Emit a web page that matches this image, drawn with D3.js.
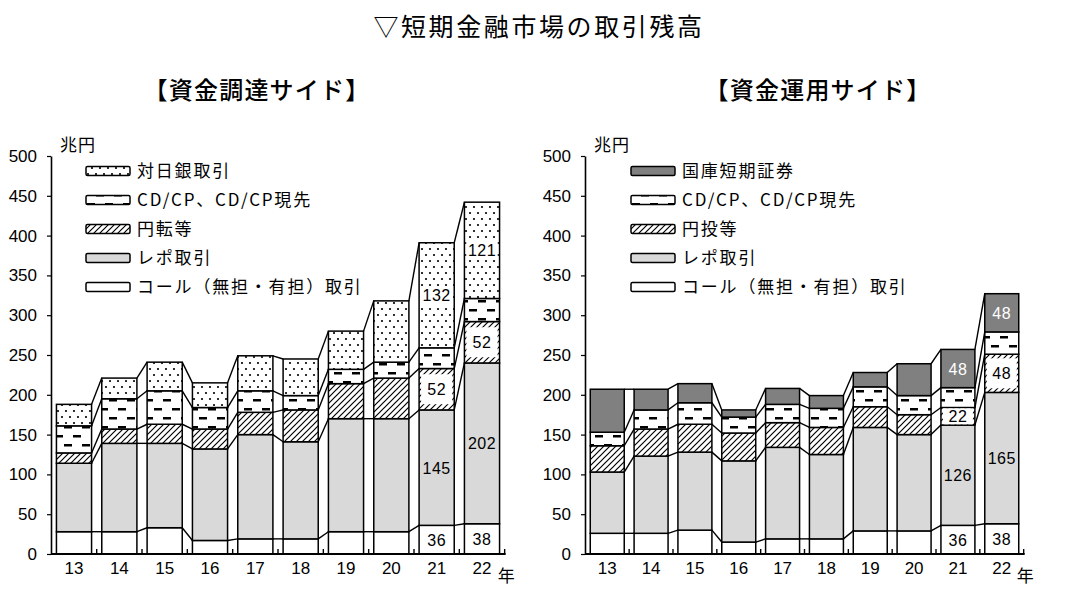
<!DOCTYPE html>
<html>
<head>
<meta charset="utf-8">
<script src="https://cdn.jsdelivr.net/npm/d3@7/dist/d3.min.js"></script>
<style>
  body { margin: 0; background: #fff; }
  svg text { font-family: "Liberation Sans", Arial, sans-serif; fill: #000; }
  svg text.jp { font-family: "Noto Sans CJK JP", sans-serif; }
</style>
</head>
<body>
<svg id="chart"></svg>
<script>
'use strict';

var years = ['13', '14', '15', '16', '17', '18', '19', '20', '21', '22'];
var yTicks = [0, 50, 100, 150, 200, 250, 300, 350, 400, 450, 500];
var labelYears = ['21', '22'];
var labelSeries = [0, 1, 2, 4];

// 資金調達サイド (bottom -> top)
var fundNames = ['コール（無担・有担）取引', 'レポ取引', '円転等', 'CD/CP、CD/CP現先', '対日銀取引'];
var fundCall = [28, 28, 33, 17, 19, 19, 28, 28, 36, 38];
var fundRepo = [86, 111, 106, 115, 131, 122, 142, 142, 145, 202];
var fundYen  = [13, 18, 24, 25, 28, 40, 44, 51, 52, 52];
var fundCdcp = [34, 38, 42, 27, 27, 18, 18, 20, 26, 29];
var fundBoj  = [27, 26, 36, 31, 44, 46, 48, 77, 132, 121];

// 資金運用サイド (bottom -> top)
var useNames = ['コール（無担・有担）取引', 'レポ取引', '円投等', 'CD/CP、CD/CP現先', '国庫短期証券'];
var useCall = [26, 26, 30, 15, 19, 19, 29, 29, 36, 38];
var useRepo = [77, 97, 98, 102, 115, 106, 130, 121, 126, 165];
var useYen  = [33, 34, 35, 35, 31, 34, 26, 25, 22, 48];
var useCdcp = [17, 24, 27, 20, 23, 24, 25, 24, 25, 28];
var useTb   = [54, 26, 24, 9, 20, 16, 18, 40, 48, 48];

var width = 1075;
var height = 607;

var svg = d3.select('#chart')
  .attr('width', width)
  .attr('height', height);

// patterns
var defs = svg.append('defs');

var dots = defs.append('pattern')
  .attr('id', 'dots')
  .attr('patternUnits', 'userSpaceOnUse')
  .attr('width', 8)
  .attr('height', 12);
dots.append('rect').attr('width', 8).attr('height', 12).attr('fill', '#fff');
dots.append('circle').attr('cx', 2).attr('cy', 3).attr('r', 1.1).attr('fill', '#000');
dots.append('circle').attr('cx', 6).attr('cy', 9).attr('r', 1.1).attr('fill', '#000');

var dash = defs.append('pattern')
  .attr('id', 'dash')
  .attr('patternUnits', 'userSpaceOnUse')
  .attr('width', 18)
  .attr('height', 18);
dash.append('rect').attr('width', 18).attr('height', 18).attr('fill', '#fff');
dash.append('rect').attr('x', 1).attr('y', 3).attr('width', 8).attr('height', 2.5).attr('fill', '#000');
dash.append('rect').attr('x', 10).attr('y', 12).attr('width', 8).attr('height', 2.5).attr('fill', '#000');

var hatch = defs.append('pattern')
  .attr('id', 'hatch')
  .attr('patternUnits', 'userSpaceOnUse')
  .attr('width', 6)
  .attr('height', 6);
hatch.append('rect').attr('width', 6).attr('height', 6).attr('fill', '#fff');
hatch.append('path')
  .attr('d', 'M0,6 L6,0 M-1.5,1.5 L1.5,-1.5 M4.5,7.5 L7.5,4.5')
  .attr('stroke', '#000')
  .attr('stroke-width', 1.2);

// title
svg.append('text')
  .attr('class', 'jp')
  .attr('x', 539)
  .attr('y', 36)
  .attr('text-anchor', 'middle')
  .style('font-size', '25px')
  .style('letter-spacing', '2.6px')
  .text('▽短期金融市場の取引残高');

var y = d3.scaleLinear().domain([0, 500]).range([554, 156]);

function drawPanel(opt) {
  var g = svg.append('g');

  var x = d3.scaleBand()
    .domain(years)
    .range(opt.xRange)
    .paddingInner(0.225)
    .paddingOuter(0.12);
  var bw = x.bandwidth();
  var step = x.step();

  var table = years.map(function (yr, i) {
    var row = { year: yr };
    opt.series.forEach(function (s, k) { row[k] = s[i]; });
    return row;
  });
  var layers = d3.stack().keys(d3.range(opt.series.length))(table);

  // subtitle
  g.append('text')
    .attr('class', 'jp')
    .attr('x', opt.subX)
    .attr('y', 99)
    .attr('text-anchor', 'middle')
    .style('font-size', '24px')
    .style('font-weight', 500)
    .style('letter-spacing', '1.2px')
    .text(opt.subtitle);

  // bars
  layers.forEach(function (layer, k) {
    g.append('g').selectAll('rect')
      .data(layer)
      .enter().append('rect')
      .attr('x', function (d) { return x(d.data.year); })
      .attr('y', function (d) { return y(d[1]); })
      .attr('width', bw)
      .attr('height', function (d) { return y(d[0]) - y(d[1]); })
      .attr('fill', opt.fills[k])
      .attr('stroke', '#000')
      .attr('stroke-width', 1.5);
  });

  // series lines between the bars
  layers.forEach(function (layer) {
    g.append('g').selectAll('line')
      .data(layer.slice(0, -1))
      .enter().append('line')
      .attr('x1', function (d) { return x(d.data.year) + bw; })
      .attr('y1', function (d) { return y(d[1]); })
      .attr('x2', function (d, i) { return x(layer[i + 1].data.year); })
      .attr('y2', function (d, i) { return y(layer[i + 1][1]); })
      .attr('stroke', '#000')
      .attr('stroke-width', 1.4);
  });

  // value labels
  labelSeries.forEach(function (k) {
    layers[k].filter(function (d) { return labelYears.indexOf(d.data.year) >= 0; })
      .forEach(function (d) {
        var cx = x(d.data.year) + bw / 2;
        var cy = (y(d[0]) + y(d[1])) / 2;
        var segH = y(d[0]) - y(d[1]);
        var txt = String(d[1] - d[0]);
        if (opt.boxed[k]) {
          var bwid = k === 2 ? bw - 4 : txt.length * 8.5 + 6;
          var bh = k === 2 ? Math.max(16, Math.min(30, segH - 8)) : 18;
          g.append('rect')
            .attr('x', cx - bwid / 2)
            .attr('y', cy - bh / 2)
            .attr('width', bwid)
            .attr('height', bh)
            .attr('fill', '#fff');
        }
        g.append('text')
          .attr('x', cx)
          .attr('y', cy + 6)
          .attr('text-anchor', 'middle')
          .style('font-size', '16px')
          .style('letter-spacing', '0.5px')
          .style('fill', opt.labelColor[k])
          .text(txt);
      });
  });

  // y axis
  var yAxis = g.append('g')
    .attr('transform', 'translate(' + opt.xRange[0] + ',0)')
    .call(d3.axisLeft(y).tickValues(yTicks).tickSize(4).tickSizeOuter(0).tickPadding(10));
  yAxis.select('.domain').attr('stroke-width', 1.6);
  yAxis.selectAll('.tick line').attr('stroke-width', 1.2);
  yAxis.selectAll('text').style('font-size', '17px').attr('font-family', null);

  // x axis: labels at the bars, ticks between them
  var xAxis = g.append('g')
    .attr('transform', 'translate(0,' + y(0) + ')')
    .call(d3.axisBottom(x).tickSize(0).tickPadding(8));
  xAxis.select('.domain').remove();
  xAxis.selectAll('text').style('font-size', '17px').attr('font-family', null);

  var xEnd = x(years[years.length - 1]) + bw + (step - bw) / 2;
  g.append('line')
    .attr('x1', opt.xRange[0])
    .attr('x2', xEnd + 1)
    .attr('y1', y(0))
    .attr('y2', y(0))
    .attr('stroke', '#000')
    .attr('stroke-width', 1.8);
  g.append('g').selectAll('line')
    .data(years)
    .enter().append('line')
    .attr('x1', function (d) { return x(d) + bw + (step - bw) / 2; })
    .attr('x2', function (d) { return x(d) + bw + (step - bw) / 2; })
    .attr('y1', y(0))
    .attr('y2', y(0) - 5)
    .attr('stroke', '#000')
    .attr('stroke-width', 1.4);

  g.append('text')
    .attr('class', 'jp')
    .attr('x', xEnd - 7)
    .attr('y', 582)
    .style('font-size', '17px')
    .text('年');

  g.append('text')
    .attr('class', 'jp')
    .attr('x', opt.xRange[0] + 9)
    .attr('y', 151)
    .style('font-size', '17px')
    .style('letter-spacing', '1px')
    .text('兆円');

  // legend, top series first
  var legend = g.append('g').selectAll('g')
    .data(d3.range(opt.series.length).reverse())
    .enter().append('g')
    .attr('transform', function (k, i) { return 'translate(' + opt.legendX + ',' + (171 + i * 29) + ')'; });
  legend.append('rect')
    .attr('x', 0)
    .attr('y', -4.5)
    .attr('width', 44)
    .attr('height', 9)
    .attr('rx', 1.5)
    .attr('fill', function (k) { return opt.fills[k]; })
    .attr('stroke', '#000')
    .attr('stroke-width', 1.5);
  legend.append('text')
    .attr('class', 'jp')
    .attr('x', 51)
    .attr('y', 6)
    .style('font-size', '17px')
    .style('letter-spacing', '1.8px')
    .text(function (k) { return opt.names[k]; });
}

drawPanel({
  subtitle: '【資金調達サイド】',
  subX: 257,
  xRange: [51, 505],
  legendX: 86,
  names: fundNames,
  series: [fundCall, fundRepo, fundYen, fundCdcp, fundBoj],
  fills: ['#fff', '#d9d9d9', 'url(#hatch)', 'url(#dash)', 'url(#dots)'],
  boxed: [false, false, true, false, true],
  labelColor: ['#000', '#000', '#000', '#000', '#000']
});

drawPanel({
  subtitle: '【資金運用サイド】',
  subX: 818,
  xRange: [585, 1024],
  legendX: 631,
  names: useNames,
  series: [useCall, useRepo, useYen, useCdcp, useTb],
  fills: ['#fff', '#d9d9d9', 'url(#hatch)', 'url(#dash)', '#808080'],
  boxed: [false, false, true, false, false],
  labelColor: ['#000', '#000', '#000', '#000', '#fff']
});
</script>
</body>
</html>
